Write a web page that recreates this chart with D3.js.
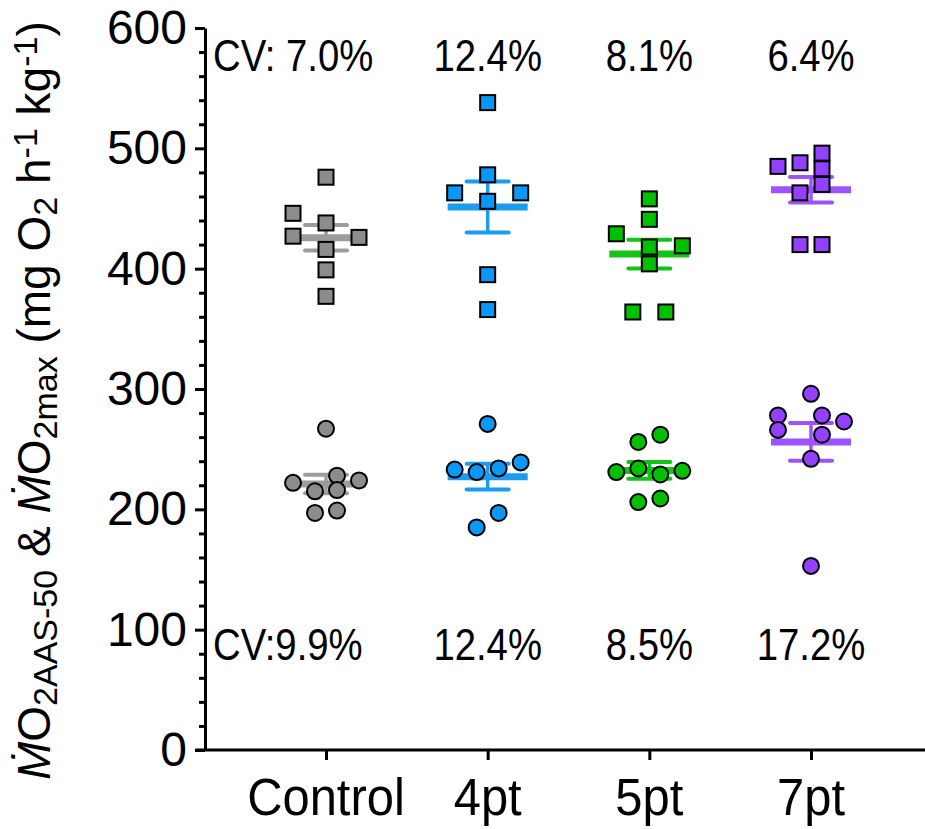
<!DOCTYPE html>
<html>
<head>
<meta charset="utf-8">
<script src="https://cdn.jsdelivr.net/npm/d3@7"></script>
<style>
  body { margin: 0; background: #fff; }
  svg { display: block; }
</style>
</head>
<body>
<div class="container"></div>
<script>
/* ===== DATA =====*/

var categories = ['Control', '4pt', '5pt', '7pt'];

// MO2max (squares)
var maxValues = [
  [476, 446, 438, 427, 426, 416, 399, 377],
  [538, 478, 463, 463, 456, 395, 366],
  [458, 441, 429, 419, 418, 404, 364, 364],
  [485, 488, 496, 483, 470, 463, 420, 420]
];
// horizontal scatter, in point-widths
var maxJitter = [
  [0, -3, 0, -3, 3, 0, 0, 0],
  [0, 0, -3, 3, 0, 0, 0],
  [0, 0, -3, 3, 0, 0, -1.5, 1.5],
  [-3, -1, 1, 1, 1, -1, -1, 1]
];

// MO2AAS-50 (circles)
var aasValues = [
  [267, 222, 228, 224, 215, 216, 197, 199],
  [271, 239, 233, 231, 234, 197, 185],
  [256, 262, 231, 234, 229, 232, 206, 209],
  [296, 278, 278, 273, 266, 262, 242, 153]
];
var aasJitter = [
  [0, -3, 1, 3, -1, 1, -1, 1],
  [0, 3, -3, -1, 1, 1, -1],
  [-1, 1, -3, -1, 1, 3, -1, 1],
  [0, -3, 1, 3, -3, 1, 0, 0]
];

var cvMax = ['CV: 7.0%', '12.4%', '8.1%', '6.4%'];
var cvAas = ['CV:9.9%', '12.4%', '8.5%', '17.2%'];

var yTicks = [0, 100, 200, 300, 400, 500, 600];

var pointColors = ['#8c8c8c', '#0a98f7', '#00c000', '#9340ff'];
var barColors = ['#9c9c9c', '#1a9cf0', '#14c414', '#9d52ff'];

/* ===== SET UP CHART =====*/

var w = 925;
var h = 829;

var svg = d3.select('.container')
  .append('svg')
  .attr('width', w)
  .attr('height', h);

var axisX = 205;
var baseY = 750;

var yScale = d3.scaleLinear()
  .domain([0, 600])
  .range([baseY, 28]);

var xScale = d3.scalePoint()
  .domain(categories)
  .range([326, 811]);

var jitterStep = 11;
var font = 'Liberation Sans, Arial, sans-serif';

/* ===== AXES =====*/

var yAxis = d3.axisLeft(yScale)
  .tickValues(yTicks)
  .tickSize(10)
  .tickPadding(8)
  .tickSizeOuter(0);

var yMinor = d3.axisLeft(yScale)
  .tickValues(d3.range(0, 601, 20).filter(function(v) { return v % 100 !== 0; }))
  .tickSize(6)
  .tickFormat('')
  .tickSizeOuter(0);

var gy = svg.append('g')
  .attr('transform', 'translate(' + axisX + ',0)')
  .call(yAxis);
gy.selectAll('text')
  .style('font-family', font)
  .style('font-size', '48px')
  .attr('fill', '#000');

var gyMinor = svg.append('g')
  .attr('transform', 'translate(' + axisX + ',0)')
  .call(yMinor);
gyMinor.select('.domain').remove();

svg.selectAll('.domain, .tick line')
  .attr('stroke', '#000')
  .attr('stroke-width', 3);

var xAxis = d3.axisBottom(xScale)
  .tickSize(10)
  .tickPadding(14)
  .tickFormat('')
  .tickSizeOuter(0);

var gx = svg.append('g')
  .attr('transform', 'translate(0,' + baseY + ')')
  .call(xAxis);
gx.select('.domain').remove();
gx.selectAll('.tick line').attr('stroke', '#000').attr('stroke-width', 3);

// category labels, a little condensed like the original
svg.append('g').selectAll('text')
  .data(categories)
  .enter()
  .append('text')
  .text(function(d) { return d; })
  .attr('text-anchor', 'middle')
  .attr('transform', function(d) {
    return 'translate(' + xScale(d) + ',815) scale(0.94,1)';
  })
  .style('font-family', font)
  .style('font-size', '52px')
  .attr('fill', '#000');

svg.append('line')
  .attr('x1', axisX - 10)
  .attr('x2', w)
  .attr('y1', baseY)
  .attr('y2', baseY)
  .attr('stroke', '#000')
  .attr('stroke-width', 3);

/* ===== Y TITLE =====*/

var title = svg.append('text')
  .attr('transform', 'translate(50,' + (baseY + 30) + ') rotate(-90)')
  .attr('text-anchor', 'start')
  .style('font-family', font)
  .style('font-size', '46px')
  .attr('fill', '#000');

var parts = [
  ['\u1E40', 'i'], ['O', ''], ['2AAS-50', 'sub'], [' & ', ''],
  ['\u1E40', 'i'], ['O', ''], ['2max', 'sub'], [' (mg O', ''], ['2', 'sub'],
  [' h', ''], ['-1', 'sup'], [' kg', ''], ['-1', 'sup'], [')', '']
];
parts.forEach(function(p) {
  var t = title.append('tspan').text(p[0]);
  if (p[1] === 'i') t.style('font-style', 'italic');
  if (p[1] === 'sub') t.attr('baseline-shift', '-22%').style('font-size', '34px');
  if (p[1] === 'sup') t.attr('baseline-shift', '38%').style('font-size', '34px');
});

/* ===== ERROR BARS (mean ± SEM) =====*/

function drawSummary(values) {
  values.forEach(function(vals, i) {
    var cx = xScale(categories[i]);
    var m = d3.mean(vals);
    var sem = d3.deviation(vals) / Math.sqrt(vals.length);
    var g = svg.append('g').attr('stroke', barColors[i]);
    g.append('line')
      .attr('x1', cx).attr('x2', cx)
      .attr('y1', yScale(m + sem)).attr('y2', yScale(m - sem))
      .attr('stroke-width', 3.5);
    [m + sem, m - sem].forEach(function(v) {
      g.append('line')
        .attr('x1', cx - 21).attr('x2', cx + 21)
        .attr('y1', yScale(v)).attr('y2', yScale(v))
        .attr('stroke-width', 4)
        .attr('stroke-linecap', 'round');
    });
    g.append('line')
      .attr('x1', cx - 40).attr('x2', cx + 40)
      .attr('y1', yScale(m)).attr('y2', yScale(m))
      .attr('stroke-width', 7);
  });
}

drawSummary(maxValues);
drawSummary(aasValues);

/* ===== POINTS =====*/

function flatten(values, jitter) {
  var out = [];
  values.forEach(function(vals, i) {
    vals.forEach(function(v, j) {
      out.push({ cat: i, value: v, off: jitter[i][j] });
    });
  });
  return out;
}

var sq = 15;
svg.append('g').selectAll('rect')
  .data(flatten(maxValues, maxJitter))
  .enter()
  .append('rect')
  .attr('x', function(d) { return xScale(categories[d.cat]) + d.off * jitterStep - sq / 2; })
  .attr('y', function(d) { return yScale(d.value) - sq / 2; })
  .attr('width', sq)
  .attr('height', sq)
  .attr('fill', function(d) { return pointColors[d.cat]; })
  .attr('stroke', '#000')
  .attr('stroke-width', 2);

svg.append('g').selectAll('circle')
  .data(flatten(aasValues, aasJitter))
  .enter()
  .append('circle')
  .attr('cx', function(d) { return xScale(categories[d.cat]) + d.off * jitterStep; })
  .attr('cy', function(d) { return yScale(d.value); })
  .attr('r', 8)
  .attr('fill', function(d) { return pointColors[d.cat]; })
  .attr('stroke', '#000')
  .attr('stroke-width', 2);

/* ===== CV LABELS =====*/

function cvRow(labels, y) {
  svg.append('g').selectAll('text')
    .data(labels)
    .enter()
    .append('text')
    .text(function(d) { return d; })
    .attr('text-anchor', function(d, i) { return i === 0 ? 'start' : 'middle'; })
    .attr('transform', function(d, i) {
      var x = i === 0 ? axisX + 8 : xScale(categories[i]);
      return 'translate(' + x + ',' + y + ') scale(0.87,1)';
    })
    .style('font-family', font)
    .style('font-size', '44px')
    .attr('fill', '#000');
}

cvRow(cvMax, 71);
cvRow(cvAas, 660);
</script>
</body>
</html>
